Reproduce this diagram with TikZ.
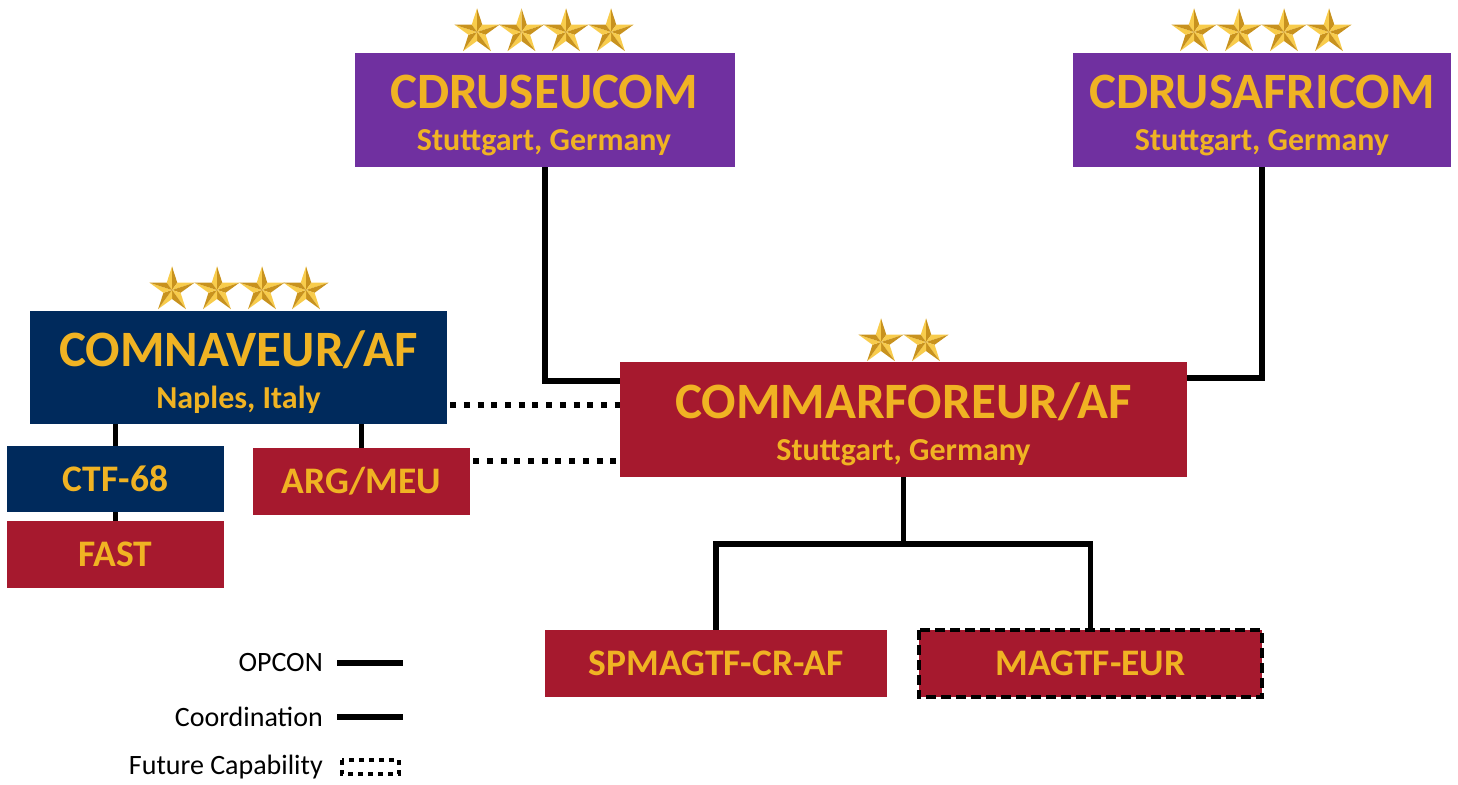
\documentclass[tikz,border=0pt]{standalone}
\usepackage{fontspec}
\setmainfont{Carlito}
\definecolor{cpurple}{HTML}{7030A0}
\definecolor{cnavy}{HTML}{002A5C}
\definecolor{cred}{HTML}{A6192E}
\definecolor{cgold}{HTML}{F0B323}
\definecolor{starA}{HTML}{F8CC4C}
\definecolor{starB}{HTML}{C8921E}
\tikzset{
  goldstar/.pic={
    \foreach \k in {0,...,4}{
      \pgfmathsetmacro\ang{270+72*\k}
      \fill[starA] (0,0) -- (\ang:23.6) -- (\ang-36:9.0) -- cycle;
      \fill[starB] (0,0) -- (\ang:23.6) -- (\ang+36:9.0) -- cycle;
    }
  }
}
\begin{document}
\begin{tikzpicture}[x=1pt,y=-1pt,
  box/.style={rectangle, inner sep=0pt, text=cgold},
  big/.style={font=\fontsize{51}{51}\selectfont\bfseries, text=cgold, anchor=base, inner sep=0pt},
  sub/.style={font=\fontsize{32}{32}\selectfont\bfseries, text=cgold, anchor=base, inner sep=0pt},
  small/.style={font=\fontsize{37.5}{37.5}\selectfont\bfseries},
  legend/.style={font=\fontsize{28}{28}\selectfont, anchor=east, inner sep=0pt},
  opcon/.style={line width=5.5pt},
  coordline/.style={line width=6pt, dash pattern=on 6pt off 7.7pt},
  future/.style={draw=black, line width=4pt, dash pattern=on 10pt off 5pt}
]
\useasboundingbox (0,0) rectangle (1458,784);

% top commands
\node[box, fill=cpurple, minimum width=380pt, minimum height=114pt] (eucom) at (545,110) {};
\node[big] (eucomT) at (544,108) {CDRUSEUCOM};
\node[sub] (eucomS) at (544,150) {Stuttgart, Germany};
\node[box, fill=cpurple, minimum width=378pt, minimum height=114pt] (africom) at (1262,110) {};
\node[big] (africomT) at (1262,108) {CDRUSAFRICOM};
\node[sub] (africomS) at (1262,150) {Stuttgart, Germany};

% COMNAVEUR
\node[box, fill=cnavy, minimum width=417pt, minimum height=113pt] (comnav) at (238.5,367.5) {};
\node[big] (comnavT) at (238.5,366) {COMNAVEUR/AF};
\node[sub] (comnavS) at (238.5,408) {Naples, Italy};

% COMMARFOREUR
\node[box, fill=cred, minimum width=567pt, minimum height=115pt] (marfor) at (903.5,419.5) {};
\node[big] (marforT) at (903.5,418) {COMMARFOREUR/AF};
\node[sub] (marforS) at (903.5,460) {Stuttgart, Germany};

% small boxes
\node[box, small, fill=cnavy, minimum width=217pt, minimum height=66pt] (ctf) at (115.5,479) {CTF-68};
\node[box, small, fill=cred, minimum width=217pt, minimum height=67pt] (fast) at (115.5,554.5) {FAST};
\node[box, small, fill=cred, minimum width=217pt, minimum height=67pt] (arg) at (361.5,481.5) {ARG/MEU};
\node[box, small, fill=cred, minimum width=342pt, minimum height=67pt] (spm) at (716,663.5) {SPMAGTF-CR-AF};
\node[box, small, fill=cred, minimum width=343pt, minimum height=67pt] (magtf) at (1090.5,663.5) {MAGTF-EUR};
\draw[future] (magtf.north west) rectangle (magtf.south east);

% stars
\foreach \x in {477,521.5,566,611}{\pic at (\x,32) {goldstar};}
\foreach \x in {1194,1239,1284,1329}{\pic at (\x,32) {goldstar};}
\foreach \x in {172,217,262,306}{\pic at (\x,290) {goldstar};}
\foreach \x in {881,926}{\pic at (\x,342) {goldstar};}

% OPCON connectors
\coordinate (eucomdrop) at (545,167);
\draw[opcon] (eucom.south) |- ([yshift=-19pt]marfor.north west);
\draw[opcon] (africom.south) |- ([yshift=-16pt]marfor.north east);
\draw[opcon] (ctf.north |- comnav.south) -- (ctf.north);
\draw[opcon] (ctf.south) -- (fast.north);
\draw[opcon] (arg.north |- comnav.south) -- (arg.north);
\coordinate (bus) at (903.5,544);
\draw[opcon] (marfor.south) -- (bus);
\draw[opcon] (spm.north) |- (bus) -| (magtf.north);

% coordination connectors
\draw[coordline] ([yshift=-37.5pt]comnav.east) ++(3,0) -- ([yshift=-37.5pt]comnav.east -| marfor.west);
\draw[coordline] ([yshift=20.5pt]arg.east) ++(3,0) -- ([yshift=20.5pt]arg.east -| marfor.west);

% legend
\node[legend] (lg1) at (323,663) {OPCON};
\node[legend] (lg2) at (323,717) {Coordination};
\node[legend] (lg3) at (323,767) {Future Capability};
\coordinate (l1a) at (337,663); \coordinate (l1b) at (403,663);
\coordinate (l2a) at (337,717); \coordinate (l2b) at (403,717);
\coordinate (l3a) at (342,760); \coordinate (l3b) at (399,774);
\draw[line width=5.5pt] (l1a) -- (l1b);
\draw[line width=5.5pt] (l2a) -- (l2b);
\draw[line width=4.5pt, dash pattern=on 5pt off 5pt] (l3a) rectangle (l3b);
\end{tikzpicture}
\end{document}
